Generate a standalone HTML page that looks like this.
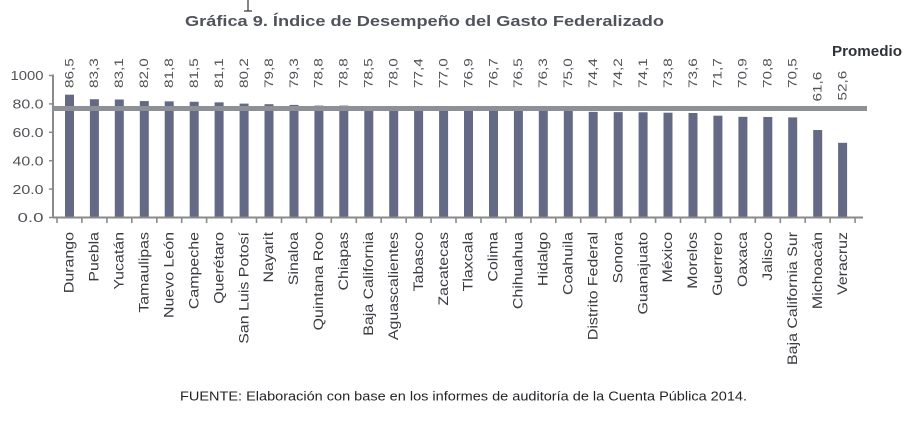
<!DOCTYPE html>
<html>
<head>
<meta charset="utf-8">
<style>
  html,body{margin:0;padding:0;background:#fff;}
  svg{display:block;}
  text{font-family:"Liberation Sans", Arial, sans-serif;}
</style>
</head>
<body>
<svg width="920" height="421" viewBox="0 0 920 421" xmlns="http://www.w3.org/2000/svg">
  <rect width="920" height="421" fill="#ffffff"/>

  <!-- cursor artifact -->
  <line x1="248" y1="0" x2="248" y2="11" stroke="#333" stroke-width="1.2"/>
  <line x1="244" y1="11" x2="252" y2="11" stroke="#333" stroke-width="1.2"/>

  <!-- Title -->
  <text x="185" y="26" font-size="15" font-weight="bold" fill="#4f535a" textLength="479" lengthAdjust="spacingAndGlyphs">Gráfica 9. Índice de Desempeño del Gasto Federalizado</text>

  <!-- Promedio -->
  <text x="832" y="56" font-size="15" font-weight="bold" fill="#2f3236" textLength="70" lengthAdjust="spacingAndGlyphs">Promedio</text>

  <!-- Y axis -->
  <line x1="53" y1="74.5" x2="53" y2="218" stroke="#8a8a8a" stroke-width="2"/>
  <g stroke="#8a8a8a" stroke-width="1.5">
    <line x1="49" y1="75.5" x2="53" y2="75.5"/>
    <line x1="49" y1="103.9" x2="53" y2="103.9"/>
    <line x1="49" y1="132.3" x2="53" y2="132.3"/>
    <line x1="49" y1="160.7" x2="53" y2="160.7"/>
    <line x1="49" y1="189.1" x2="53" y2="189.1"/>
    <line x1="49" y1="217.5" x2="53" y2="217.5"/>
  </g>
  <g font-size="13" fill="#505257" text-anchor="end">
    <text x="43.5" y="80.2" textLength="33" lengthAdjust="spacingAndGlyphs">1000</text>
    <text x="43.5" y="108.6" textLength="31" lengthAdjust="spacingAndGlyphs">80.0</text>
    <text x="43.5" y="137" textLength="31" lengthAdjust="spacingAndGlyphs">60.0</text>
    <text x="43.5" y="165.4" textLength="31" lengthAdjust="spacingAndGlyphs">40.0</text>
    <text x="43.5" y="193.8" textLength="31" lengthAdjust="spacingAndGlyphs">20.0</text>
    <text x="43.5" y="222.2" textLength="26" lengthAdjust="spacingAndGlyphs">0.0</text>
  </g>

  <!-- Bars -->
  <g transform="translate(0,217.5) scale(1,-1.42)" fill="#646a86">
    <rect x="65.0" y="0" width="9" height="86.5"/>
    <rect x="89.9" y="0" width="9" height="83.3"/>
    <rect x="114.8" y="0" width="9" height="83.1"/>
    <rect x="139.8" y="0" width="9" height="82.0"/>
    <rect x="164.7" y="0" width="9" height="81.8"/>
    <rect x="189.7" y="0" width="9" height="81.5"/>
    <rect x="214.6" y="0" width="9" height="81.1"/>
    <rect x="239.6" y="0" width="9" height="80.2"/>
    <rect x="264.5" y="0" width="9" height="79.8"/>
    <rect x="289.5" y="0" width="9" height="79.3"/>
    <rect x="314.4" y="0" width="9" height="78.8"/>
    <rect x="339.3" y="0" width="9" height="78.8"/>
    <rect x="364.3" y="0" width="9" height="78.5"/>
    <rect x="389.2" y="0" width="9" height="78.0"/>
    <rect x="414.1" y="0" width="9" height="77.4"/>
    <rect x="439.1" y="0" width="9" height="77.0"/>
    <rect x="464.0" y="0" width="9" height="76.9"/>
    <rect x="489.0" y="0" width="9" height="76.7"/>
    <rect x="513.9" y="0" width="9" height="76.5"/>
    <rect x="538.8" y="0" width="9" height="76.3"/>
    <rect x="563.8" y="0" width="9" height="75.0"/>
    <rect x="588.7" y="0" width="9" height="74.4"/>
    <rect x="613.7" y="0" width="9" height="74.2"/>
    <rect x="638.6" y="0" width="9" height="74.1"/>
    <rect x="663.5" y="0" width="9" height="73.8"/>
    <rect x="688.5" y="0" width="9" height="73.6"/>
    <rect x="713.4" y="0" width="9" height="71.7"/>
    <rect x="738.4" y="0" width="9" height="70.9"/>
    <rect x="763.3" y="0" width="9" height="70.8"/>
    <rect x="788.2" y="0" width="9" height="70.5"/>
    <rect x="813.2" y="0" width="9" height="61.6"/>
    <rect x="838.1" y="0" width="9" height="52.6"/>
  </g>

  <!-- Average line -->
  <rect x="53" y="106" width="814" height="5" fill="#8d9196"/>

  <!-- X axis -->
  <line x1="53" y1="217.5" x2="863" y2="217.5" stroke="#8a8a8a" stroke-width="2"/>
  <g stroke="#8a8a8a" stroke-width="1.6">
    <line x1="57.0" y1="217" x2="57.0" y2="223"/>
    <line x1="81.9" y1="217" x2="81.9" y2="223"/>
    <line x1="106.9" y1="217" x2="106.9" y2="223"/>
    <line x1="131.8" y1="217" x2="131.8" y2="223"/>
    <line x1="156.8" y1="217" x2="156.8" y2="223"/>
    <line x1="181.7" y1="217" x2="181.7" y2="223"/>
    <line x1="206.6" y1="217" x2="206.6" y2="223"/>
    <line x1="231.6" y1="217" x2="231.6" y2="223"/>
    <line x1="256.5" y1="217" x2="256.5" y2="223"/>
    <line x1="281.5" y1="217" x2="281.5" y2="223"/>
    <line x1="306.4" y1="217" x2="306.4" y2="223"/>
    <line x1="331.3" y1="217" x2="331.3" y2="223"/>
    <line x1="356.3" y1="217" x2="356.3" y2="223"/>
    <line x1="381.2" y1="217" x2="381.2" y2="223"/>
    <line x1="406.2" y1="217" x2="406.2" y2="223"/>
    <line x1="431.1" y1="217" x2="431.1" y2="223"/>
    <line x1="456.0" y1="217" x2="456.0" y2="223"/>
    <line x1="481.0" y1="217" x2="481.0" y2="223"/>
    <line x1="505.9" y1="217" x2="505.9" y2="223"/>
    <line x1="530.9" y1="217" x2="530.9" y2="223"/>
    <line x1="555.8" y1="217" x2="555.8" y2="223"/>
    <line x1="580.7" y1="217" x2="580.7" y2="223"/>
    <line x1="605.7" y1="217" x2="605.7" y2="223"/>
    <line x1="630.6" y1="217" x2="630.6" y2="223"/>
    <line x1="655.6" y1="217" x2="655.6" y2="223"/>
    <line x1="680.5" y1="217" x2="680.5" y2="223"/>
    <line x1="705.4" y1="217" x2="705.4" y2="223"/>
    <line x1="730.4" y1="217" x2="730.4" y2="223"/>
    <line x1="755.3" y1="217" x2="755.3" y2="223"/>
    <line x1="780.3" y1="217" x2="780.3" y2="223"/>
    <line x1="805.2" y1="217" x2="805.2" y2="223"/>
    <line x1="830.1" y1="217" x2="830.1" y2="223"/>
    <line x1="855.1" y1="217" x2="855.1" y2="223"/>
  </g>

  <!-- Value labels -->
  <g font-size="11.5" fill="#505257" dominant-baseline="central">
    <text transform="translate(69.5,88) rotate(-90) scale(1.33,1)">86,5</text>
    <text transform="translate(94.4,88) rotate(-90) scale(1.33,1)">83,3</text>
    <text transform="translate(119.3,88) rotate(-90) scale(1.33,1)">83,1</text>
    <text transform="translate(144.3,88) rotate(-90) scale(1.33,1)">82,0</text>
    <text transform="translate(169.2,88) rotate(-90) scale(1.33,1)">81,8</text>
    <text transform="translate(194.2,88) rotate(-90) scale(1.33,1)">81,5</text>
    <text transform="translate(219.1,88) rotate(-90) scale(1.33,1)">81,1</text>
    <text transform="translate(244.1,88) rotate(-90) scale(1.33,1)">80,2</text>
    <text transform="translate(269.0,88) rotate(-90) scale(1.33,1)">79,8</text>
    <text transform="translate(294.0,88) rotate(-90) scale(1.33,1)">79,3</text>
    <text transform="translate(318.9,88) rotate(-90) scale(1.33,1)">78,8</text>
    <text transform="translate(343.8,88) rotate(-90) scale(1.33,1)">78,8</text>
    <text transform="translate(368.8,88) rotate(-90) scale(1.33,1)">78,5</text>
    <text transform="translate(393.7,88) rotate(-90) scale(1.33,1)">78,0</text>
    <text transform="translate(418.6,88) rotate(-90) scale(1.33,1)">77,4</text>
    <text transform="translate(443.6,88) rotate(-90) scale(1.33,1)">77,0</text>
    <text transform="translate(468.5,88) rotate(-90) scale(1.33,1)">76,9</text>
    <text transform="translate(493.5,88) rotate(-90) scale(1.33,1)">76,7</text>
    <text transform="translate(518.4,88) rotate(-90) scale(1.33,1)">76,5</text>
    <text transform="translate(543.3,88) rotate(-90) scale(1.33,1)">76,3</text>
    <text transform="translate(568.3,88) rotate(-90) scale(1.33,1)">75,0</text>
    <text transform="translate(593.2,88) rotate(-90) scale(1.33,1)">74,4</text>
    <text transform="translate(618.2,88) rotate(-90) scale(1.33,1)">74,2</text>
    <text transform="translate(643.1,88) rotate(-90) scale(1.33,1)">74,1</text>
    <text transform="translate(668.0,88) rotate(-90) scale(1.33,1)">73,8</text>
    <text transform="translate(693.0,88) rotate(-90) scale(1.33,1)">73,6</text>
    <text transform="translate(717.9,88) rotate(-90) scale(1.33,1)">71,7</text>
    <text transform="translate(742.9,88) rotate(-90) scale(1.33,1)">70,9</text>
    <text transform="translate(767.8,88) rotate(-90) scale(1.33,1)">70,8</text>
    <text transform="translate(792.7,88) rotate(-90) scale(1.33,1)">70,5</text>
    <text transform="translate(817.7,101.5) rotate(-90) scale(1.33,1)">61,6</text>
    <text transform="translate(842.6,100.5) rotate(-90) scale(1.33,1)">52,6</text>
  </g>

  <!-- Category labels -->
  <g font-size="14" fill="#3a3c41" text-anchor="end" dominant-baseline="central">
    <text transform="translate(69.5,232) rotate(-90) scale(1.14,1)">Durango</text>
    <text transform="translate(94.4,232) rotate(-90) scale(1.14,1)">Puebla</text>
    <text transform="translate(119.3,232) rotate(-90) scale(1.14,1)">Yucatán</text>
    <text transform="translate(144.3,232) rotate(-90) scale(1.14,1)">Tamaulipas</text>
    <text transform="translate(169.2,232) rotate(-90) scale(1.14,1)">Nuevo León</text>
    <text transform="translate(194.2,232) rotate(-90) scale(1.14,1)">Campeche</text>
    <text transform="translate(219.1,232) rotate(-90) scale(1.14,1)">Querétaro</text>
    <text transform="translate(244.1,232) rotate(-90) scale(1.14,1)">San Luis Potosí</text>
    <text transform="translate(269.0,232) rotate(-90) scale(1.14,1)">Nayarit</text>
    <text transform="translate(294.0,232) rotate(-90) scale(1.14,1)">Sinaloa</text>
    <text transform="translate(318.9,232) rotate(-90) scale(1.14,1)">Quintana Roo</text>
    <text transform="translate(343.8,232) rotate(-90) scale(1.14,1)">Chiapas</text>
    <text transform="translate(368.8,232) rotate(-90) scale(1.14,1)">Baja California</text>
    <text transform="translate(393.7,232) rotate(-90) scale(1.14,1)">Aguascalientes</text>
    <text transform="translate(418.6,232) rotate(-90) scale(1.14,1)">Tabasco</text>
    <text transform="translate(443.6,232) rotate(-90) scale(1.14,1)">Zacatecas</text>
    <text transform="translate(468.5,232) rotate(-90) scale(1.14,1)">Tlaxcala</text>
    <text transform="translate(493.5,232) rotate(-90) scale(1.14,1)">Colima</text>
    <text transform="translate(518.4,232) rotate(-90) scale(1.14,1)">Chihuahua</text>
    <text transform="translate(543.3,232) rotate(-90) scale(1.14,1)">Hidalgo</text>
    <text transform="translate(568.3,232) rotate(-90) scale(1.14,1)">Coahuila</text>
    <text transform="translate(593.2,232) rotate(-90) scale(1.14,1)">Distrito Federal</text>
    <text transform="translate(618.2,232) rotate(-90) scale(1.14,1)">Sonora</text>
    <text transform="translate(643.1,232) rotate(-90) scale(1.14,1)">Guanajuato</text>
    <text transform="translate(668.0,232) rotate(-90) scale(1.14,1)">México</text>
    <text transform="translate(693.0,232) rotate(-90) scale(1.14,1)">Morelos</text>
    <text transform="translate(717.9,232) rotate(-90) scale(1.14,1)">Guerrero</text>
    <text transform="translate(742.9,232) rotate(-90) scale(1.14,1)">Oaxaca</text>
    <text transform="translate(767.8,232) rotate(-90) scale(1.14,1)">Jalisco</text>
    <text transform="translate(792.7,232) rotate(-90) scale(1.14,1)">Baja California Sur</text>
    <text transform="translate(817.7,232) rotate(-90) scale(1.14,1)">Michoacán</text>
    <text transform="translate(842.6,232) rotate(-90) scale(1.14,1)">Veracruz</text>
  </g>

  <!-- Source -->
  <text x="180" y="400.5" font-size="12.5" fill="#222428" textLength="567" lengthAdjust="spacingAndGlyphs">FUENTE: Elaboración con base en los informes de auditoría de la Cuenta Pública 2014.</text>
</svg>
</body>
</html>
